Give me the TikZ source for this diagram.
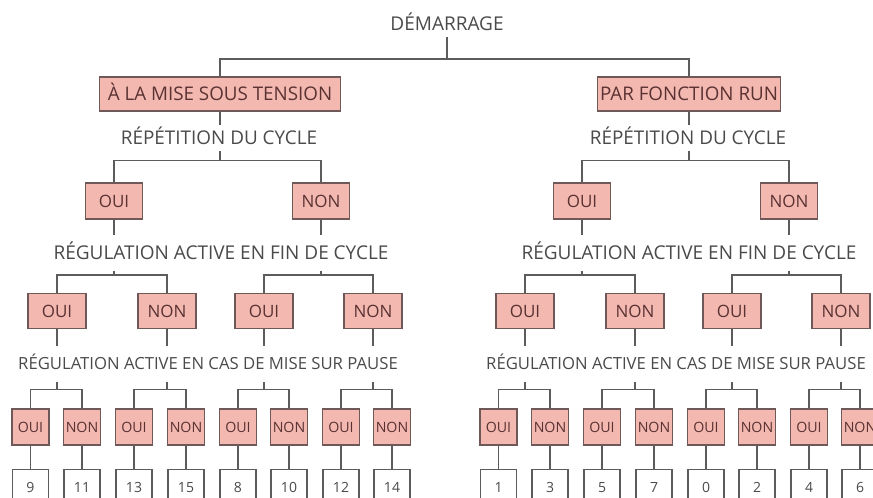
\documentclass[tikz,border=0pt]{standalone}
\usepackage{fontspec}
\setmainfont{Open Sans}
\usetikzlibrary{positioning,calc}
\definecolor{boxfill}{HTML}{F3B9B1}
\definecolor{boxline}{HTML}{6E5858}
\definecolor{boxtext}{HTML}{5A3232}
\definecolor{wiregray}{HTML}{5C5C5C}
\definecolor{labelgray}{HTML}{4A4A4A}
\newcommand\pxsize[1]{\fontsize{#1}{#1}\selectfont}

\begin{document}
\begin{tikzpicture}[x=1pt,y=-1pt,
    px/.style={font=\pxsize{#1},text height=0.714*#1pt,text depth=0pt},
    box/.style={draw=boxline,fill=boxfill,text=boxtext,line width=1.4pt,inner sep=0pt},
    lbl/.style={text=labelgray,inner sep=0pt},
    numbox/.style={draw=wiregray,fill=white,text=labelgray,line width=1.2pt,inner sep=0pt,
        minimum width=36pt,minimum height=36pt,anchor=north,px=14},
    wire/.style={draw=wiregray,line width=1.5pt}]

    \clip (0,0) rectangle (873,498);

    % Start
    \node[lbl,px=19,minimum height=26pt] (start) at (447,24) {DÉMARRAGE};
    \coordinate (split) at (447,59);

    % Startup modes
    \node[box,px=18.8,minimum width=241pt,minimum height=34pt] (tension) at (220,94) {À LA MISE SOUS TENSION};
    \node[box,px=18.8,minimum width=183pt,minimum height=34pt] (run) at (689,94) {PAR FONCTION RUN};
    \node[lbl,px=18.9,minimum height=26pt] (repA) at (219,138) {RÉPÉTITION DU CYCLE};
    \node[lbl,px=18.9,minimum height=26pt] (repB) at (688,138) {RÉPÉTITION DU CYCLE};

    % Both halves of the tree
    \foreach \h/\dx/\nums in {A/0/{9,11,13,15,8,10,12,14},B/468/{1,3,5,7,0,2,4,6}}{
        \begin{scope}[xshift=\dx]
            % cycle repetition answers
            \node[box,px=17,minimum width=57pt,minimum height=36pt] (\h-oui) at (114,201) {OUI};
            \node[box,px=17,minimum width=57pt,minimum height=36pt] (\h-non) at (321,201) {NON};
            \node[lbl,px=19,minimum height=35pt] (\h-fin) at (221,253) {RÉGULATION ACTIVE EN FIN DE CYCLE};

            % end of cycle answers
            \foreach \i/\x/\t in {1/57/OUI,2/167/NON,3/264/OUI,4/373/NON}
                \node[box,px=17,minimum width=58pt,minimum height=35pt] (\h-r\i) at (\x,311) {\t};
            \node[lbl,px=16.7,minimum height=36pt] (\h-pause) at (208,364) {RÉGULATION ACTIVE EN CAS DE MISE SUR PAUSE};

            % pause answers and resulting codes
            \foreach \i/\x/\t in {1/30.5/OUI,2/82/NON,3/134/OUI,4/186/NON,5/238/OUI,6/289/NON,7/341/OUI,8/392/NON}
                \node[box,px=14.2,minimum width=37pt,minimum height=36pt] (\h-p\i) at (\x,427) {\t};
            \foreach \n [count=\i] in \nums {
                \node[numbox] (\h-n\i) at (\h-p\i.south |- 0,469) {\n};
                \draw[wire] (\h-p\i) -- (\h-n\i);
            }
        \end{scope}

        % Connectors
        \draw[wire] (\h-oui) -- (\h-oui |- \h-fin.north);
        \draw[wire] (\h-non) -- (\h-non |- \h-fin.north);
        \draw[wire] (\h-oui |- \h-fin.south) -- ($(\h-oui |- \h-r1.north)+(0,-18)$);
        \draw[wire] (\h-non |- \h-fin.south) -- ($(\h-non |- \h-r3.north)+(0,-18)$);
        \draw[wire] (\h-r1.north) -- ++(0,-18) -| (\h-r2.north);
        \draw[wire] (\h-r3.north) -- ++(0,-18) -| (\h-r4.north);
        \foreach \k [evaluate=\k as \a using int(2*\k-1), evaluate=\k as \b using int(2*\k)] in {1,...,4}{
            \draw[wire] (\h-r\k) -- (\h-r\k |- \h-pause.north);
            \draw[wire] (\h-r\k |- \h-pause.south) -- ($(\h-r\k |- \h-p\a.north)+(0,-19)$);
            \draw[wire] (\h-p\a.north) -- ++(0,-19) -| (\h-p\b.north);
        }
    }

    % Top connectors
    \draw[wire] (start.south) -- (split);
    \draw[wire] (tension.north) |- (split) -| (run.north);
    \draw[wire] (tension) -- (tension |- repA.north);
    \draw[wire] (run) -- (run |- repB.north);
    \draw[wire] (tension |- repA.south) -- ($(tension |- A-oui.north)+(0,-22)$);
    \draw[wire] (run |- repB.south) -- ($(run |- B-oui.north)+(0,-22)$);
    \draw[wire] (A-oui.north) -- ++(0,-22) -| (A-non.north);
    \draw[wire] (B-oui.north) -- ++(0,-22) -| (B-non.north);
\end{tikzpicture}
\end{document}
